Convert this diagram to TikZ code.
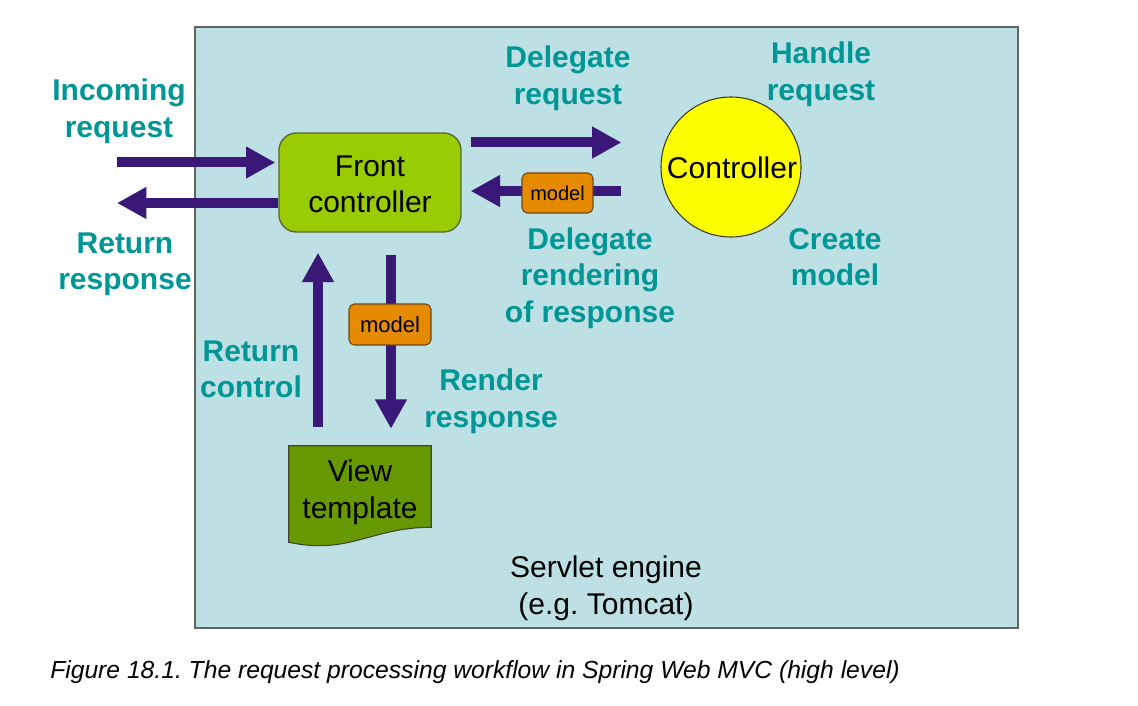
\documentclass[tikz,border=0pt]{standalone}
\usepackage{fontspec}
\setmainfont{Liberation Sans}
\usetikzlibrary{arrows.meta,calc}
\definecolor{bgc}{RGB}{189,224,228}
\definecolor{bgborder}{RGB}{100,100,100}
\definecolor{teallbl}{RGB}{0,150,150}
\definecolor{arr}{RGB}{58,24,120}
\definecolor{fcfill}{RGB}{153,204,0}
\definecolor{fcdraw}{RGB}{90,100,60}
\definecolor{vtfill}{RGB}{102,153,0}
\definecolor{modfill}{RGB}{230,138,0}
\definecolor{moddraw}{RGB}{110,70,20}
\definecolor{ctrlfill}{RGB}{255,255,0}
\frenchspacing
\begin{document}
\begin{tikzpicture}[x=0.75pt,y=-0.75pt,
  lbl/.style={text=teallbl, font=\bfseries\fontsize{22.5}{27.4}\selectfont, align=center, inner sep=0pt},
  plain/.style={text=black, font=\fontsize{22.5}{27.4}\selectfont, align=center, inner sep=0pt},
  bigarrow/.style={draw=arr, line width=7.5pt, -{Triangle[width=22.5pt,length=22pt]}},
  modelbox/.style={draw=moddraw, fill=modfill, rounded corners=4pt, line width=0.8pt, inner sep=0pt, font=\fontsize{#1}{#1}\selectfont},
]
\useasboundingbox (0,0) rectangle (1138,706);
\fill[white] (0,0) rectangle (1138,706);
% servlet engine background
\node[draw=bgborder, fill=bgc, line width=1.5pt, minimum width=617.25pt, minimum height=450.75pt, inner sep=0pt] (engine) at (606.5,327.5) {};
\node[plain] (enginelbl) at (606,588.5) {\frenchspacing Servlet engine\\(e.g. Tomcat)};

% front controller
\node[draw=fcdraw, fill=fcfill, rounded corners=13pt, line width=1pt, minimum width=136.5pt, minimum height=74.25pt, inner sep=0pt] (fc) at (370,182.5) {};
\node[plain] (fclbl) at (370,184.5) {Front\\controller};

% controller circle
\node[circle, draw=fcdraw!60!black, fill=ctrlfill, line width=0.8pt, minimum size=105pt, inner sep=0pt] (ctrl) at (731,167) {};
\node[plain] (ctrllbl) at (732,168) {Controller};

% view template
\node[minimum width=106.5pt, minimum height=60.75pt, inner sep=0pt] (vt) at (360,486.5) {};
\draw[draw=fcdraw!70!black, fill=vtfill, line width=0.8pt]
  (vt.north west) -- (vt.north east) -- (vt.south east)
  .. controls ($(vt.south east)+(-60,0)$) and ($(vt.south west)+(60,28)$) .. ($(vt.south west)+(0,15)$) -- cycle;
\node[plain] (vtlbl) at (360,492.5) {View\\template};

% incoming / return
\coordinate (inS) at (117,162.5);
\coordinate (outE) at (117,203);
\draw[bigarrow] (inS) -- ($(inS -| fc.west)+(-3,0)$);
\draw[bigarrow] (outE -| fc.west) -- (outE);

% delegate request
\coordinate (d1s) at ($(fc.east)+(9,-40)$);
\coordinate (d1e) at ($(ctrl.west)+(-39,-24.5)$);
\draw[bigarrow] (d1s) -- (d1e);

% return model
\coordinate (d2s) at ($(ctrl.west)+(-39,24)$);
\coordinate (d2e) at ($(fc.east)+(9,8.5)$);
\draw[bigarrow] (d2s) -- (d2e);
\node[modelbox=15, minimum width=53.25pt, minimum height=30pt] (m1) at (557.5,193) {model};

% up (return control)
\coordinate (ups) at ($(vt.north)+(-42,-19)$);
\coordinate (upe) at ($(fc.south)+(-52,20)$);
\draw[bigarrow] (ups) -- (upe);

% down (render)
\coordinate (dns) at ($(fc.south)+(21,22)$);
\coordinate (dne) at ($(vt.north)+(31,-17)$);
\draw[bigarrow] (dns) -- (dne);
\node[modelbox=16.5, minimum width=61.5pt, minimum height=30.75pt] (m2) at (390,324.5) {model};

% labels
\node[lbl] (l1) at (119,111.5) {Incoming\\request};
\node[lbl] (l2) at (125,264.5) {Return\\response};
\node[lbl] (l3) at (568,78) {Delegate\\request};
\node[lbl] (l4) at (821,74) {Handle\\request};
\node[lbl] (l5) at (590,278) {Delegate\\rendering\\of response};
\node[lbl] (l6) at (835,257) {Create\\model};
\node[lbl] (l7) at (251,369.5) {Return\\control};
\node[lbl] (l8) at (491,401.5) {Render\\response};

% caption
\node[anchor=west, inner sep=0pt, font=\itshape\fontsize{18.5}{20}\selectfont] (cap) at (50,672) {\frenchspacing Figure 18.1. The request processing workflow in Spring Web MVC (high level)};
\end{tikzpicture}
\end{document}
